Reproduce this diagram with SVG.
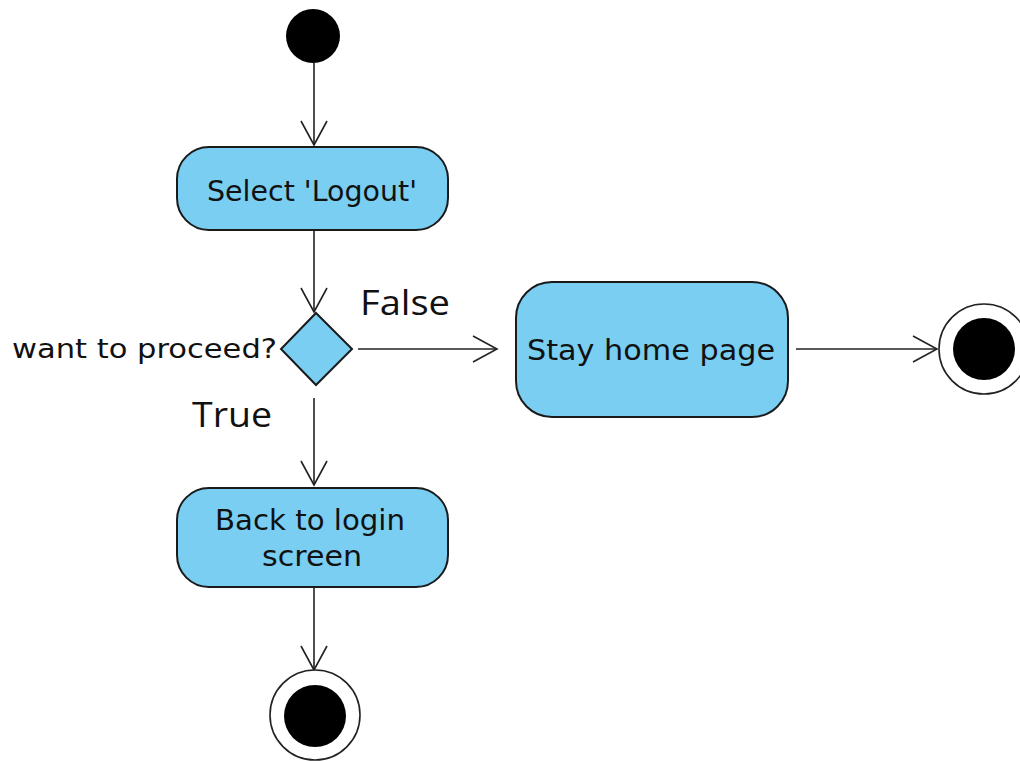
<svg xmlns="http://www.w3.org/2000/svg" width="1020" height="761" viewBox="0 0 1020 761">
<style>
.box{fill:#79cef2;stroke:#1a1a1a;stroke-width:2}
.lbl{font-family:"DejaVu Sans",sans-serif;font-size:28px;fill:#111}
.guard{font-family:"Open Sans","Noto Sans",sans-serif;font-size:35px;fill:#111}
.edge{fill:none;stroke:#222;stroke-width:1.6}
</style>
<defs>
<marker id="arr" markerUnits="userSpaceOnUse" markerWidth="30" markerHeight="30" viewBox="-26 -15 30 30" refX="0" refY="0" orient="auto">
<path d="M-24,-13 L0,0 L-24,13" fill="none" stroke="#222" stroke-width="1.6"/>
</marker>
</defs>
<rect width="1020" height="761" fill="#fff"/>
<g id="connectors">
<line class="edge" x1="314" y1="63" x2="314" y2="145" marker-end="url(#arr)"/>
<line class="edge" x1="314" y1="230" x2="314" y2="312" marker-end="url(#arr)"/>
<line class="edge" x1="358" y1="349" x2="497" y2="349" marker-end="url(#arr)"/>
<line class="edge" x1="314" y1="398" x2="314" y2="485" marker-end="url(#arr)"/>
<line class="edge" x1="796" y1="349" x2="937" y2="349" marker-end="url(#arr)"/>
<line class="edge" x1="314" y1="587" x2="314" y2="670" marker-end="url(#arr)"/>
<text class="guard" x="360" y="315" textLength="90" lengthAdjust="spacingAndGlyphs">False</text>
<text class="guard" x="192" y="427" textLength="80" lengthAdjust="spacingAndGlyphs">True</text>
</g>
<g id="start"><circle cx="313" cy="36" r="27" fill="#000"/></g>
<g id="select-logout">
<rect class="box" x="177" y="147" width="271" height="83" rx="32"/>
<text class="lbl" x="207" y="201" textLength="210" lengthAdjust="spacingAndGlyphs">Select 'Logout'</text>
</g>
<g id="decision">
<polygon class="box" points="316,313 352,349 316,385 281,349"/>
<text class="lbl" x="12" y="358" style="font-size:26px" textLength="265" lengthAdjust="spacingAndGlyphs">want to proceed?</text>
</g>
<g id="stay-home">
<rect class="box" x="516" y="282" width="272" height="135" rx="36"/>
<text class="lbl" x="527" y="360" textLength="248" lengthAdjust="spacingAndGlyphs">Stay home page</text>
</g>
<g id="back-to-login">
<rect class="box" x="177" y="488" width="271" height="99" rx="32"/>
<text class="lbl" x="215" y="530" textLength="190" lengthAdjust="spacingAndGlyphs">Back to login</text>
<text class="lbl" x="262" y="566" textLength="100" lengthAdjust="spacingAndGlyphs">screen</text>
</g>
<g id="end-bottom">
<circle cx="315" cy="715" r="45" fill="#fff" stroke="#222" stroke-width="1.6"/>
<circle cx="315" cy="716" r="31" fill="#000"/>
</g>
<g id="end-right">
<circle cx="984" cy="349" r="45" fill="#fff" stroke="#222" stroke-width="1.6"/>
<circle cx="984" cy="349" r="31" fill="#000"/>
</g>
</svg>
